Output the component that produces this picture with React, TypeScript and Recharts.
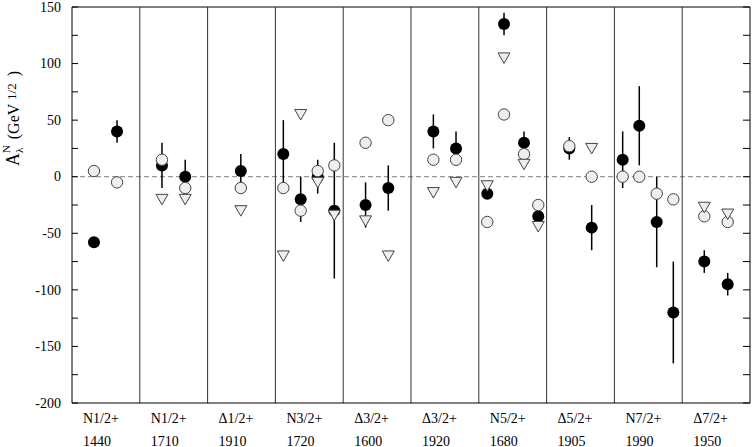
import React from 'react';
import { ScatterChart, Scatter, XAxis, YAxis, ReferenceLine, ErrorBar } from 'recharts';

const groupNames = ['N1/2+', 'N1/2+', 'Δ1/2+', 'N3/2+', 'Δ3/2+', 'Δ3/2+', 'N5/2+', 'Δ5/2+', 'N7/2+', 'Δ7/2+'];
const groupMasses = ['1440', '1710', '1910', '1720', '1600', '1920', '1680', '1905', '1990', '1950'];
const groupStarts = [0, 1, 2, 3, 4, 5, 6, 7, 8, 9];
const separators = [1, 2, 3, 4, 5, 6, 7, 8, 9];
const yTicks = [-200, -175, -150, -125, -100, -75, -50, -25, 0, 25, 50, 75, 100, 125, 150];

// filled circles with error bars
const filled = [
  { x: 0.324, y: -58, err: 0 },
  { x: 0.664, y: 40, err: 10 },
  { x: 1.327, y: 10, err: 20 },
  { x: 1.67, y: 0, err: 15 },
  { x: 2.49, y: 5, err: 15 },
  { x: 3.117, y: 20, err: 30 },
  { x: 3.373, y: -20, err: 20 },
  { x: 3.624, y: 0, err: 15 },
  { x: 3.869, y: -30, err: 60 },
  { x: 4.33, y: -25, err: 20 },
  { x: 4.665, y: -10, err: 20 },
  { x: 5.33, y: 40, err: 15 },
  { x: 5.664, y: 25, err: 15 },
  { x: 6.125, y: -15, err: 0 },
  { x: 6.372, y: 135, err: 10 },
  { x: 6.667, y: 30, err: 10 },
  { x: 6.877, y: -35, err: 0 },
  { x: 7.335, y: 25, err: 10 },
  { x: 7.665, y: -45, err: 20 },
  { x: 8.122, y: 15, err: 25 },
  { x: 8.367, y: 45, err: 35 },
  { x: 8.624, y: -40, err: 40 },
  { x: 8.869, y: -120, err: 45 },
  { x: 9.326, y: -75, err: 10 },
  { x: 9.671, y: -95, err: 10 },
];

// open circles
const open = [
  { x: 0.324, y: 5 },
  { x: 0.664, y: -5 },
  { x: 1.327, y: 15 },
  { x: 1.67, y: -10 },
  { x: 2.49, y: -10 },
  { x: 3.117, y: -10 },
  { x: 3.373, y: -30 },
  { x: 3.624, y: 5 },
  { x: 3.869, y: 10 },
  { x: 4.33, y: 30 },
  { x: 4.665, y: 50 },
  { x: 5.33, y: 15 },
  { x: 5.664, y: 15 },
  { x: 6.125, y: -40 },
  { x: 6.372, y: 55 },
  { x: 6.667, y: 20 },
  { x: 6.877, y: -25 },
  { x: 7.335, y: 27 },
  { x: 7.665, y: 0 },
  { x: 8.122, y: 0 },
  { x: 8.367, y: 0 },
  { x: 8.624, y: -15 },
  { x: 8.869, y: -20 },
  { x: 9.326, y: -35 },
  { x: 9.671, y: -40 },
];

// open down-triangles
const triangles = [
  { x: 1.327, y: -20 },
  { x: 1.67, y: -20 },
  { x: 2.49, y: -30 },
  { x: 3.117, y: -70 },
  { x: 3.373, y: 55 },
  { x: 3.624, y: -5 },
  { x: 3.869, y: -34 },
  { x: 4.33, y: -39 },
  { x: 4.665, y: -70 },
  { x: 5.33, y: -14 },
  { x: 5.664, y: -5 },
  { x: 6.125, y: -8 },
  { x: 6.372, y: 105 },
  { x: 6.667, y: 11 },
  { x: 6.877, y: -44 },
  { x: 7.665, y: 25 },
  { x: 9.326, y: -27 },
  { x: 9.671, y: -33 },
];

const FONT = '"Liberation Serif", "Times New Roman", serif';

const FilledShape = (p: any) => <circle cx={p.cx} cy={p.cy} r={6} fill="#000" />;
const OpenShape = (p: any) => (
  <circle cx={p.cx} cy={p.cy} r={5.7} fill="#eeeeee" stroke="#444" strokeWidth={1} />
);
const TriShape = (p: any) => (
  <polygon
    points={`${p.cx - 6},${p.cy - 5} ${p.cx + 6},${p.cy - 5} ${p.cx},${p.cy + 5.5}`}
    fill="#eeeeee"
    stroke="#444"
    strokeWidth={1}
  />
);

const LeftTick = (p: any) => {
  const v = p.payload.value;
  return (
    <g>
      <line x1={p.x} x2={p.x + 6} y1={p.y} y2={p.y} stroke="#000" strokeWidth={1} />
      {v % 50 === 0 ? (
        <text x={p.x - 11} y={p.y + 4.7} textAnchor="end" fontFamily={FONT} fontSize={14} fill="#000">
          {v}
        </text>
      ) : null}
    </g>
  );
};

const RightTick = (p: any) => (
  <line x1={p.x} x2={p.x - 7} y1={p.y} y2={p.y} stroke="#000" strokeWidth={1} />
);

const BottomTick = (p: any) => {
  const i = p.payload.value;
  return (
    <g>
      <text x={p.x + 11} y={p.y + 20} textAnchor="start" fontFamily={FONT} fontSize={14} fill="#000">
        {groupNames[i]}
      </text>
      <text x={p.x + 11} y={p.y + 42.5} textAnchor="start" fontFamily={FONT} fontSize={14} fill="#000">
        {groupMasses[i]}
      </text>
    </g>
  );
};

export default function App() {
  return (
    <div style={{ position: 'absolute', left: 0, top: 0, width: 752, height: 447, background: '#fff' }}>
      <ScatterChart width={752} height={447} margin={{ top: 7, right: 0, bottom: 0, left: 0 }}>
        <XAxis
          dataKey="x"
          type="number"
          domain={[0, 10]}
          ticks={groupStarts}
          interval={0}
          tickSize={0}
          tickMargin={0}
          tickLine={false}
          tick={BottomTick}
          height={44}
          axisLine={{ stroke: '#000', strokeWidth: 1 }}
          allowDataOverflow
        />
        <YAxis
          yAxisId="left"
          dataKey="y"
          type="number"
          domain={[-200, 150]}
          ticks={yTicks}
          interval={0}
          tickSize={0}
          tickMargin={0}
          tickLine={false}
          tick={LeftTick}
          width={72}
          axisLine={{ stroke: '#000', strokeWidth: 1 }}
          allowDataOverflow
        />
        <YAxis
          yAxisId="right"
          orientation="right"
          type="number"
          domain={[-200, 150]}
          ticks={yTicks}
          interval={0}
          tickSize={0}
          tickMargin={0}
          tickLine={false}
          tick={RightTick}
          width={2}
          axisLine={{ stroke: '#000', strokeWidth: 1 }}
          allowDataOverflow
        />
        <ReferenceLine yAxisId="left" y={150} stroke="#000" strokeWidth={1} />
        <ReferenceLine yAxisId="left" y={0} stroke="#999" strokeWidth={1.2} strokeDasharray="5 3" />
        {separators.map((s) => (
          <ReferenceLine key={s} yAxisId="left" x={s} stroke="#333" strokeWidth={1} />
        ))}
        <Scatter yAxisId="left" data={filled} shape={FilledShape} isAnimationActive={false}>
          <ErrorBar dataKey="err" direction="y" width={0} stroke="#000" strokeWidth={1.5} />
        </Scatter>
        <Scatter yAxisId="left" data={open} shape={OpenShape} isAnimationActive={false} />
        <Scatter yAxisId="left" data={triangles} shape={TriShape} isAnimationActive={false} />
      </ScatterChart>
      <svg
        width={752}
        height={447}
        style={{ position: 'absolute', left: 0, top: 0, pointerEvents: 'none' }}
      >
        <text transform="translate(19,166) rotate(-90)" textAnchor="start" fontFamily={FONT} fill="#000">
          <tspan fontSize={18}>A</tspan>
          <tspan fontSize={11} dy={-9}>N</tspan>
          <tspan fontSize={11} dx={-8} dy={13}>λ</tspan>
          <tspan fontSize={16} dx={8.5} dy={-4}>(GeV </tspan>
          <tspan fontSize={13} dy={-3}>1/2</tspan>
          <tspan fontSize={16} dx={3} dy={3}> )</tspan>
        </text>
      </svg>
    </div>
  );
}
